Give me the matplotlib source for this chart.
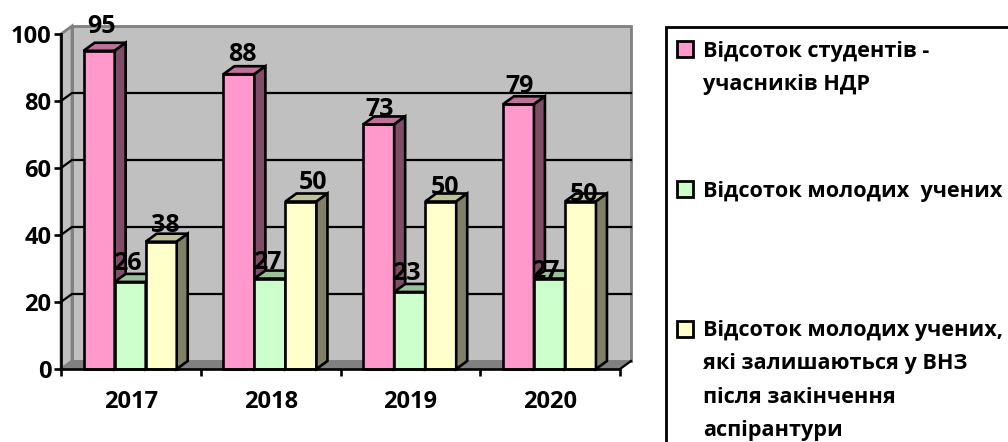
import matplotlib
matplotlib.use('Agg')
import matplotlib.pyplot as plt
from matplotlib.patches import Polygon, Rectangle
import numpy as np

years = ['2017', '2018', '2019', '2020']
students = [95, 88, 73, 79]
young = [26, 27, 23, 27]
stay = [38, 50, 50, 50]
yticks = [0, 20, 40, 60, 80, 100]
names = ['Відсоток студентів -\nучасників НДР',
         'Відсоток молодих  учених',
         'Відсоток молодих учених,\nякі залишаються у ВНЗ\nпісля закінчення\nаспірантури']
colors = ['#FF99CC', '#CCFFCC', '#FFFFCC']
tops = ['#C0709A', '#99C099', '#C0C099']
sides = ['#804D66', '#668066', '#808066']

# where the value labels sit relative to the bar front top, in pixels
label_dx = [[2, 3, 1, 1], [-3, -3, -3, -4], [4, 12, 4, 4]]
label_up = [[24, 20, 15, 18], [18, 16, 18, 7], [16, 19, 14, 7]]

W, H = 1008, 442
plt.rcParams['font.family'] = 'Open Sans'
plt.rcParams['font.weight'] = 'bold'

fig = plt.figure(figsize=(W / 100, H / 100), dpi=100)
# front plane of the 3d box in pixels: x 61-620, y 34-369
ax = fig.add_axes([61 / W, 1 - 369 / H, 559 / W, 335 / H])
ax.set_xlim(0, 4)
ax.set_ylim(0, 100)
ax.patch.set_visible(False)

dx = 11 / 139.75
dy = 8 / 3.35
lw = 1.9

# walls and floor
ax.add_patch(Polygon([(dx, dy), (4 + dx, dy), (4 + dx, 100 + dy), (dx, 100 + dy)],
                     fc='#C0C0C0', ec='#808080', lw=2, clip_on=False, zorder=1))
ax.add_patch(Polygon([(0, 0), (dx, dy), (dx, 100 + dy), (0, 100)],
                     fc='#C0C0C0', ec='#808080', lw=2, clip_on=False, zorder=1))
ax.add_patch(Polygon([(0, 0), (4, 0), (4 + dx, dy), (dx, dy)],
                     fc='#808080', ec='#808080', lw=1, clip_on=False, zorder=1))
for t in yticks[1:-1]:
    ax.plot([0, dx, 4 + dx], [t, t + dy, t + dy], color='black', lw=1.6,
            clip_on=False, zorder=2, solid_joinstyle='miter')
ax.plot([4, 4 + dx], [0, dy], color='black', lw=1.6, clip_on=False, zorder=2)

width = 0.222
start = 0.162
x = np.arange(len(years))
for i, vals in enumerate([students, young, stay]):
    left = x + start + i * width
    ax.bar(left, vals, width, align='edge', color=colors[i], edgecolor='black',
           linewidth=lw, zorder=3 + i, clip_on=False)
    for l, v in zip(left, vals):
        r = l + width
        ax.add_patch(Polygon([(l, v), (r, v), (r + dx, v + dy), (l + dx, v + dy)],
                             fc=tops[i], ec='black', lw=lw, clip_on=False, zorder=3 + i))
        ax.add_patch(Polygon([(r, 0), (r + dx, dy), (r + dx, v + dy), (r, v)],
                             fc=sides[i], ec='black', lw=lw, clip_on=False, zorder=3 + i))

for i, vals in enumerate([students, young, stay]):
    left = x + start + i * width
    for j, v in enumerate(vals):
        ax.annotate(str(v), (left[j] + width / 2, v),
                    xytext=(label_dx[i][j] * 0.72, label_up[i][j] * 0.72),
                    textcoords='offset points', ha='center', va='center',
                    fontsize=18, zorder=10, annotation_clip=False)

for s in ['top', 'right']:
    ax.spines[s].set_visible(False)
for s in ['left', 'bottom']:
    ax.spines[s].set_linewidth(1.9)
    ax.spines[s].set_zorder(9)
ax.set_yticks(yticks)
ax.set_xticks(np.arange(5))
ax.set_xticklabels([])
ax.set_xticks(x + 0.5, minor=True)
ax.set_xticklabels(years, minor=True, fontsize=17)
ax.tick_params(axis='x', which='minor', length=0, pad=15)
ax.tick_params(axis='x', which='major', length=5, width=1.9)
ax.tick_params(axis='y', length=5, width=1.9, pad=2, labelsize=17)

# legend box runs off the picture on the right and bottom
fig.add_artist(Rectangle((666 / W, -0.02), 0.5, 1 - 27 / H + 0.02, fc='white',
                         ec='black', lw=2, transform=fig.transFigure))
text_y = [56, 196, 335]
swatch_y = [48.5, 188.5, 328.5]
for name, c, ty, sy in zip(names, colors, text_y, swatch_y):
    fig.add_artist(Rectangle((677 / W, 1 - (sy + 8) / H), 15.5 / W, 15.5 / H, fc=c, ec='black',
                             lw=2, transform=fig.transFigure))
    fig.text(703 / W, 1 - (ty - 15) / H, name, fontsize=15.6, va='top', ha='left', linespacing=1.78)

fig.savefig('out.png', dpi=100)
